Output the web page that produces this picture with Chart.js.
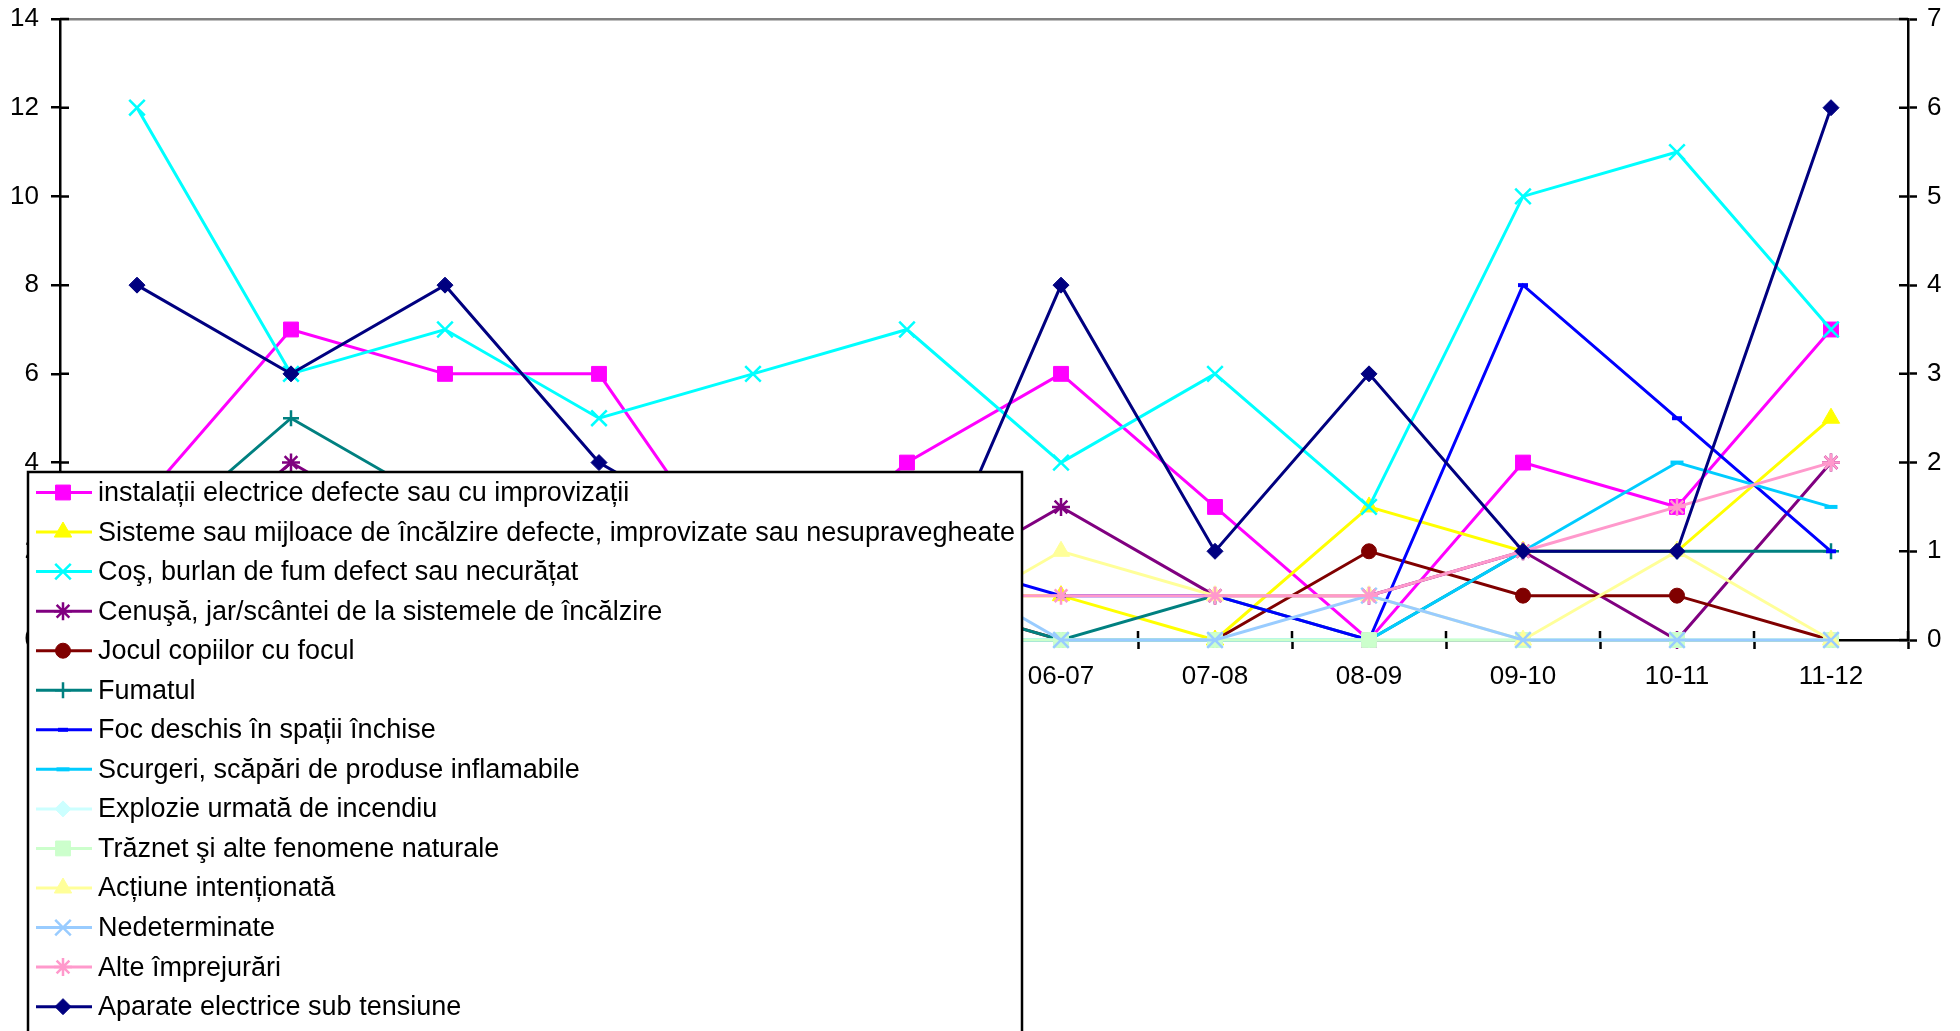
<!DOCTYPE html>
<html>
<head>
<meta charset="utf-8">
<script src="https://cdn.jsdelivr.net/npm/chart.js@4.4.1/dist/chart.umd.min.js"></script>
<style>
  html, body { margin: 0; padding: 0; background: #fff; }
  #wrap { width: 1960px; height: 1031px; overflow: hidden; }
</style>
</head>
<body>
<div id="wrap"><canvas id="incendiiChart" width="1960" height="1031"></canvas></div>
<script>
// ani (sezoane)
const categories = ['00-01', '01-02', '02-03', '03-04', '04-05', '05-06', '06-07', '07-08', '08-09', '09-10', '10-11', '11-12'];

// numar de incendii pe cauze (axa din stanga)
const instalatii    = [3, 7, 6, 6, 1, 4, 6, 3, 0, 4, 3, 7];
const sisteme       = [2, 3, 1, 2, 3, 1, 1, 0, 3, 2, 2, 5];
const cos           = [12, 6, 7, 5, 6, 7, 4, 6, 3, 10, 11, 7];
const cenusa        = [1, 4, 2, 1, 2, 1, 3, 1, 1, 2, 0, 4];
const jocul         = [1, 0, 2, 1, 0, 1, 0, 0, 2, 1, 1, 0];
const fumatul       = [2, 5, 3, 2, 1, 1, 0, 1, 0, 2, 2, 2];
const focDeschis    = [1, 2, 1, 0, 1, 2, 1, 1, 0, 8, 5, 2];
const scurgeri      = [0, 0, 1, 0, 0, 0, 0, 0, 0, 2, 4, 3];
const explozie      = [0, 0, 0, 0, 0, 0, 0, 0, 0, 0, 0, 0];
const traznet       = [0, 0, 0, 0, 0, 0, 0, 0, 0, 0, 0, 0];
const actiune       = [0, 1, 0, 0, 1, 0, 2, 1, 1, 0, 2, 0];
const nedeterminate = [1, 0, 2, 1, 0, 2, 0, 0, 1, 0, 0, 0];
const alte          = [0, 1, 0, 1, 0, 1, 1, 1, 1, 2, 3, 4];
const aparate       = [8, 6, 8, 4, 2, 0, 8, 2, 6, 2, 2, 12];

// axe
const leftTicks = [0, 2, 4, 6, 8, 10, 12, 14];
const rightTicks = [0, 1, 2, 3, 4, 5, 6, 7];

const fontFam = '"Liberation Sans", Arial, sans-serif';

function serie(label, data, color, style, radius, idx) {
    const filled = ['rect', 'triangle', 'circle', 'rectRot'].includes(style);
    return {
        label: label,
        data: data,
        borderColor: color,
        backgroundColor: color,
        borderWidth: 3,
        pointStyle: style,
        pointRadius: radius,
        pointHoverRadius: radius,
        pointBorderWidth: filled ? 1 : (style === 'line' ? 4 : 2.5),
        pointBackgroundColor: color,
        pointBorderColor: color,
        tension: 0,
        clip: false,
        order: 20 - idx  // ultimele serii deasupra, ca in Excel
    };
}

// axele verticale fara spatiu suplimentar sus/jos pentru etichete
function fixVertical(width) {
    return function(scale) {
        scale.width = width;
        scale.paddingTop = 0;
        scale.paddingBottom = 0;
    };
}

// cruciulite spre interior pe axe (Excel "cross")
const innerTicks = {
    id: 'innerTicks',
    beforeDatasetsDraw(chart) {
        const ctx = chart.ctx;
        const y = chart.scales.y, y2 = chart.scales.y2, x = chart.scales.x;
        const len = 9;
        ctx.save();
        ctx.strokeStyle = '#000';
        ctx.lineWidth = 2.5;
        ctx.beginPath();
        leftTicks.forEach(v => {
            const p = y.getPixelForValue(v);
            ctx.moveTo(y.right, p); ctx.lineTo(y.right + len, p);
        });
        rightTicks.forEach(v => {
            const p = y2.getPixelForValue(v);
            ctx.moveTo(y2.left, p); ctx.lineTo(y2.left - len, p);
        });
        for (let i = 0; i <= categories.length; i++) {
            const p = x.getPixelForValue(i - 0.5);
            ctx.moveTo(p, x.top); ctx.lineTo(p, x.top - len);
        }
        ctx.stroke();
        ctx.restore();
    }
};

// legenda suprapusa peste grafic
const legendBox = {
    id: 'legendBox',
    afterDraw(chart, args, opts) {
        const ctx = chart.ctx;
        ctx.save();
        ctx.fillStyle = '#fff';
        ctx.fillRect(opts.left, opts.top, opts.right - opts.left, chart.height - opts.top + 20);
        ctx.strokeStyle = '#000';
        ctx.lineWidth = 2.5;
        ctx.strokeRect(opts.left, opts.top, opts.right - opts.left, chart.height - opts.top + 20);

        chart.data.datasets.forEach((ds, i) => {
            const yy = opts.firstRow + i * opts.rowHeight;
            ctx.strokeStyle = ds.borderColor;
            ctx.fillStyle = ds.backgroundColor;
            ctx.lineWidth = ds.borderWidth;
            ctx.beginPath();
            ctx.moveTo(opts.left + 8, yy);
            ctx.lineTo(opts.left + 64, yy);
            ctx.stroke();
            ctx.lineWidth = ds.pointBorderWidth;
            if (Chart.helpers && Chart.helpers.drawPoint) {
                Chart.helpers.drawPoint(ctx, {
                    pointStyle: ds.pointStyle,
                    radius: ds.pointRadius,
                    borderWidth: ds.pointBorderWidth,
                    rotation: 0
                }, opts.left + 35, yy);
            } else {
                ctx.fillRect(opts.left + 29, yy - 6, 12, 12);
            }
            ctx.fillStyle = '#000';
            ctx.font = '27px ' + fontFam;
            ctx.textBaseline = 'middle';
            ctx.textAlign = 'left';
            ctx.fillText(ds.label, opts.left + 70, yy + 1);
        });
        ctx.restore();
    }
};

const ctx = document.getElementById('incendiiChart').getContext('2d');
const chartData = {
    labels: categories,
    datasets: [
        serie('instalații electrice defecte sau cu improvizații', instalatii, '#FF00FF', 'rect', 10.5, 0),
        serie('Sisteme sau mijloace de încălzire defecte, improvizate sau nesupravegheate', sisteme, '#FFFF00', 'triangle', 10, 1),
        serie('Coş, burlan de fum defect sau necurățat', cos, '#00FFFF', 'crossRot', 11, 2),
        serie('Cenuşă, jar/scântei de la sistemele de încălzire', cenusa, '#800080', 'star', 9, 3),
        serie('Jocul copiilor cu focul', jocul, '#800000', 'circle', 7.5, 4),
        serie('Fumatul', fumatul, '#008080', 'cross', 8, 5),
        serie('Foc deschis în spații închise', focDeschis, '#0000FF', 'line', 5, 6),
        serie('Scurgeri, scăpări de produse inflamabile', scurgeri, '#00CCFF', 'line', 6.5, 7),
        serie('Explozie urmată de incendiu', explozie, '#CCFFFF', 'rectRot', 8, 8),
        serie('Trăznet şi alte fenomene naturale', traznet, '#CCFFCC', 'rect', 10.5, 9),
        serie('Acțiune intenționată', actiune, '#FFFF99', 'triangle', 10, 10),
        serie('Nedeterminate', nedeterminate, '#99CCFF', 'crossRot', 11, 11),
        serie('Alte împrejurări', alte, '#FF99CC', 'star', 9, 12),
        serie('Aparate electrice sub tensiune', aparate, '#000080', 'rectRot', 8, 13)
    ]
};

const cfg = {
    type: 'line',
    data: chartData,
    plugins: [innerTicks, legendBox],
    options: {
        responsive: false,
        animation: false,
        layout: { padding: { top: 19, left: 0, right: 0, bottom: 0 } },
        plugins: {
            legend: { display: false },
            tooltip: { enabled: false },
            legendBox: { left: 28, right: 1022, top: 472, firstRow: 492.5, rowHeight: 39.55 }
        },
        scales: {
            x: {
                type: 'category',
                offset: true,
                afterFit: function(scale) { scale.height = 391; },
                grid: {
                    offset: true,
                    color: 'rgba(0,0,0,0)',
                    tickColor: '#000',
                    tickLength: 9,
                    tickWidth: 2.5
                },
                border: { color: '#000', width: 2.5 },
                ticks: {
                    color: '#000',
                    font: { family: fontFam, size: 26 },
                    padding: 12,
                    maxRotation: 0,
                    autoSkip: false
                }
            },
            y: {
                position: 'left',
                min: 0,
                max: 14,
                afterFit: fixVertical(60),
                afterBuildTicks: function(scale) { scale.ticks = leftTicks.map(v => ({ value: v })); },
                grid: {
                    color: c => (c.tick && c.tick.value === 14) ? '#808080' : 'rgba(0,0,0,0)',
                    lineWidth: 2.5,
                    tickColor: '#000',
                    tickLength: 9,
                    tickWidth: 2.5
                },
                border: { color: '#000', width: 2.5 },
                ticks: {
                    color: '#000',
                    font: { family: fontFam, size: 26 },
                    padding: 12
                }
            },
            y2: {
                position: 'right',
                min: 0,
                max: 7,
                afterFit: fixVertical(52),
                afterBuildTicks: function(scale) { scale.ticks = rightTicks.map(v => ({ value: v })); },
                grid: {
                    drawOnChartArea: false,
                    tickColor: '#000',
                    tickLength: 9,
                    tickWidth: 2.5
                },
                border: { color: '#000', width: 2.5 },
                ticks: {
                    color: '#000',
                    font: { family: fontFam, size: 26 },
                    padding: 10
                }
            }
        }
    }
};

let incendiiChart = new Chart(ctx, cfg);

// potrivire chenar grafic: marginea de sus la 19px
const dTop = 19 - incendiiChart.chartArea.top;
if (Math.abs(dTop) > 0.5) {
    incendiiChart.destroy();
    cfg.options.layout.padding.top = Math.max(0, cfg.options.layout.padding.top + dTop);
    incendiiChart = new Chart(ctx, cfg);
}
</script>
</body>
</html>
